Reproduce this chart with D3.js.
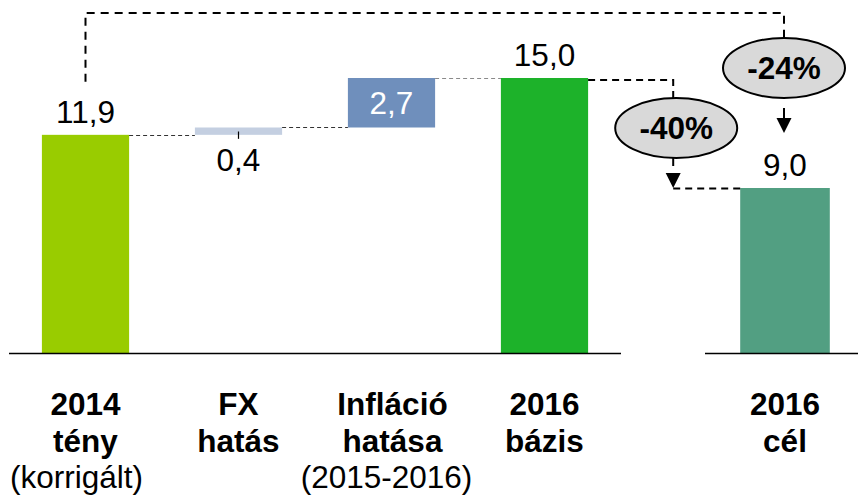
<!DOCTYPE html>
<html>
<head>
<meta charset="utf-8">
<script src="https://cdn.jsdelivr.net/npm/d3@7"></script>
<style>
  html, body { margin: 0; padding: 0; background: #fff; }
  svg { display: block; font-family: "Liberation Sans", Arial, sans-serif; }
</style>
</head>
<body>
<svg id="chart" width="858" height="498"></svg>
<script>
// Waterfall: 2014 actual -> FX and inflation effects -> 2016 base, then 2016 target
const categories = ["2014 tény", "FX hatás", "Infláció hatása", "2016 bázis", "2016 cél"];
const values     = [11.9, 0.4, 2.7, 15.0, 9.0];
const kinds      = ["total", "delta", "delta", "total", "total"];
const colors     = ["#99CC00", "#C4CFE1", "#6F8FBC", "#1DB22A", "#529F82"];
const boldLines  = [["2014", "tény"], ["FX", "hatás"], ["Infláció", "hatása"], ["2016", "bázis"], ["2016", "cél"]];
const noteLines  = ["(korrigált)", "", "(2015-2016)", "", ""];
const changeLabels = ["-40%", "-24%"];   // base -> target, actual -> target

const svg = d3.select("#chart");
const fmt = d3.formatLocale({ decimal: ",", thousands: " ", grouping: [3], currency: ["", ""] }).format(".1f");
const FS = 31.5;

// running waterfall extents
let run = 0;
const bars = categories.map((c, i) => {
  let y0, y1;
  if (kinds[i] === "total") { y0 = 0; y1 = values[i]; run = values[i]; }
  else { y0 = run; y1 = run + values[i]; run = y1; }
  return { cat: c, i, y0, y1, value: values[i], kind: kinds[i], color: colors[i] };
});

// two panels: the bridge (first four) and the target (last one)
const xLeft  = d3.scaleBand().domain(categories.slice(0, 4)).range([9, 621]).paddingInner(0.43).paddingOuter(0.215);
const xRight = d3.scaleBand().domain(categories.slice(4)).range([705, 865]).paddingInner(0.44).paddingOuter(0.22);
const xb = c => (xLeft.domain().includes(c) ? xLeft(c) : xRight(c));
const bw = c => (xLeft.domain().includes(c) ? xLeft.bandwidth() : xRight.bandwidth());
const xc = c => xb(c) + bw(c) / 2;

const y = d3.scaleLinear().domain([0, 15]).range([353, 78]);

// bars
svg.append("g").selectAll("rect").data(bars).join("rect")
  .attr("x", d => xb(d.cat))
  .attr("width", d => bw(d.cat))
  .attr("y", d => y(Math.max(d.y0, d.y1)))
  .attr("height", d => Math.abs(y(d.y0) - y(d.y1)))
  .attr("fill", d => d.color);

// baseline axes (broken between panels)
const axisG = svg.append("g");
[[xLeft.range()[0], xLeft.range()[1]], [xRight.range()[0], 858]].forEach(([a, b]) => {
  axisG.append("line").attr("x1", a).attr("x2", b).attr("y1", y(0) + 0.5).attr("y2", y(0) + 0.5)
    .attr("stroke", "#000").attr("stroke-width", 1.5);
});

// step connectors between bridge bars
const conn = svg.append("g").attr("fill", "none");
for (let k = 0; k < 3; k++) {
  const a = bars[k], b = bars[k + 1];
  conn.append("line")
    .attr("x1", xb(a.cat) + bw(a.cat)).attr("x2", xb(b.cat))
    .attr("y1", Math.round(y(a.y1)) + 0.5).attr("y2", Math.round(y(a.y1)) + 0.5)
    .attr("stroke", k === 2 ? "#8a8a8a" : "#333")
    .attr("stroke-width", 1)
    .attr("stroke-dasharray", "4,3");
}

// value labels
const lab = svg.append("g").attr("font-size", FS).attr("text-anchor", "middle");
bars.forEach(d => {
  const cx = xc(d.cat);
  if (d.kind === "total") {
    lab.append("text").attr("x", cx).attr("y", y(d.y1) - 12).attr("fill", "#000").text(fmt(d.value));
  } else if (d.i === 1) {
    // thin bar: label hangs below with a short tick
    svg.append("line").attr("x1", cx).attr("x2", cx).attr("y1", y(d.y1) + 4).attr("y2", y(d.y0) + 4)
      .attr("stroke", "#000").attr("stroke-width", 1.2);
    lab.append("text").attr("x", cx).attr("y", y(d.y0) + 36).attr("fill", "#000").text(fmt(d.value));
  } else {
    lab.append("text").attr("x", cx).attr("y", (y(d.y0) + y(d.y1)) / 2 + 11).attr("fill", "#fff").text(fmt(d.value));
  }
});

// category labels
const catG = svg.append("g").attr("text-anchor", "middle").attr("font-size", FS).attr("fill", "#000");
categories.forEach((c, i) => {
  const cx = xc(c) + (i === 2 ? 1 : 0);
  const t = catG.append("text").attr("x", cx).attr("y", 415);
  boldLines[i].forEach((ln, j) => {
    t.append("tspan").attr("x", cx).attr("dy", j === 0 ? 0 : 36.5).attr("font-weight", "bold").text(ln);
  });
  if (noteLines[i]) t.append("tspan").attr("x", cx - (i === 0 ? 9 : 6)).attr("dy", 36.5).text(noteLines[i]);
});

// change annotations
const ann = svg.append("g");
function arrowHead(x, tipY) {
  ann.append("path").attr("d", `M${x - 7.5},${tipY - 15}L${x + 7.5},${tipY - 15}L${x},${tipY}Z`).attr("fill", "#000");
}
function bubble(cx, cy, text) {
  ann.append("ellipse").attr("cx", cx).attr("cy", cy).attr("rx", 61).attr("ry", 30)
    .attr("fill", "#D9D9D9").attr("stroke", "#000").attr("stroke-width", 2);
  ann.append("text").attr("x", cx).attr("y", cy + 11).attr("text-anchor", "middle")
    .attr("font-size", FS).attr("font-weight", "bold").attr("fill", "#000").text(text);
}

// base -> target
const bz = bars[3], tg = bars[4];
const ax1 = xb(tg.cat) - 67;
const cy1 = (y(bz.y1) + y(tg.y1)) / 2 - 5;
ann.append("path")
  .attr("d", `M${xb(bz.cat) + bw(bz.cat)},${y(bz.y1) + 2}H${ax1}V${cy1 - 30}`)
  .attr("fill", "none").attr("stroke", "#000").attr("stroke-width", 2).attr("stroke-dasharray", "7,5");
ann.append("path")
  .attr("d", `M${xb(tg.cat)},${y(tg.y1) + 0.5}H${ax1}`)
  .attr("fill", "none").attr("stroke", "#000").attr("stroke-width", 2).attr("stroke-dasharray", "7,5");
ann.append("line").attr("x1", ax1).attr("x2", ax1).attr("y1", cy1 + 30).attr("y2", cy1 + 38)
  .attr("stroke", "#000").attr("stroke-width", 2);
arrowHead(ax1, y(tg.y1));
bubble(ax1 + 3, cy1, changeLabels[0]);

// actual -> target
const a0 = bars[0];
const topY = 13;
const ax2 = xc(tg.cat) - 1;
const cy2 = 68;
ann.append("path")
  .attr("d", `M${xc(a0.cat)},${y(a0.y1) - 53}V${topY}H${ax2}V${cy2 - 31}`)
  .attr("fill", "none").attr("stroke", "#000").attr("stroke-width", 2).attr("stroke-dasharray", "8,6");
ann.append("line").attr("x1", ax2).attr("x2", ax2).attr("y1", cy2 + 40).attr("y2", cy2 + 52)
  .attr("stroke", "#000").attr("stroke-width", 2);
arrowHead(ax2, cy2 + 65);
bubble(ax2, cy2, changeLabels[1]);
</script>
</body>
</html>
